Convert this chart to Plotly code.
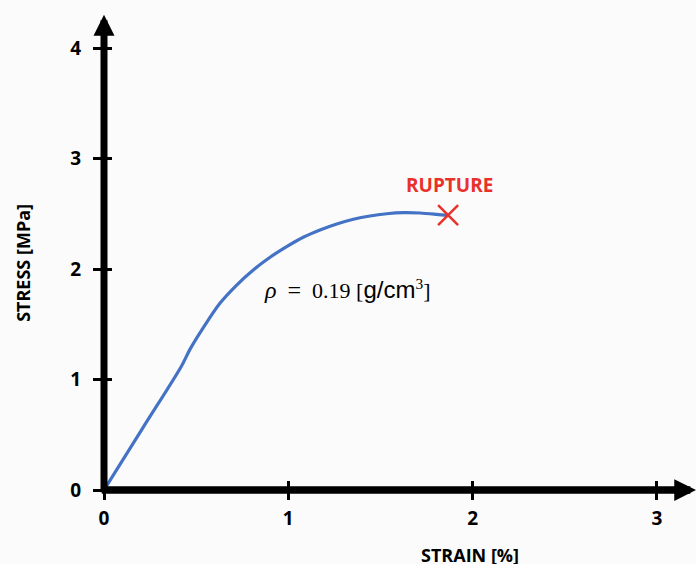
import plotly.graph_objects as go

# ---- data ----
strain = [0, 0.21, 0.42, 0.467, 0.539, 0.629, 0.720, 0.810, 0.901, 0.991, 1.081, 1.172,
          1.263, 1.353, 1.443, 1.534, 1.624, 1.715, 1.805, 1.867]
stress = [0, 0.56, 1.12, 1.275, 1.470, 1.690, 1.855, 1.991, 2.106, 2.202, 2.287, 2.353,
          2.407, 2.450, 2.480, 2.500, 2.510, 2.507, 2.495, 2.485]
rupture_strain = [1.867]
rupture_stress = [2.487]
x_ticks = [0, 1, 2, 3]
y_ticks = [0, 1, 2, 3, 4]

X_MAX = 3.212
Y_MAX = 4.344
Y_ARROW = 4.30

BLUE = "#4472c4"
RED = "#e8312a"
FONT = "Open Sans"

fig = go.Figure()
fig.add_trace(go.Scatter(x=strain, y=stress, mode="lines",
                         line=dict(color=BLUE, width=3.2, shape="spline", smoothing=0.9),
                         showlegend=False, hoverinfo="skip"))
fig.add_trace(go.Scatter(x=rupture_strain, y=rupture_stress, mode="markers",
                         marker=dict(symbol="x-thin", size=20, line=dict(color=RED, width=2.5)),
                         showlegend=False, cliponaxis=False, hoverinfo="skip"))
# invisible traces to carry the overlay axes (inner tick halves)
fig.add_trace(go.Scatter(x=[0], y=[0], xaxis="x2", yaxis="y", mode="markers",
                         marker=dict(opacity=0), showlegend=False, hoverinfo="skip"))
fig.add_trace(go.Scatter(x=[0], y=[0], xaxis="x", yaxis="y2", mode="markers",
                         marker=dict(opacity=0), showlegend=False, hoverinfo="skip"))

tickfont = dict(family=FONT, size=19, color="black", weight=700)

fig.update_layout(
    width=696, height=564,
    margin=dict(l=104, r=0, t=10, b=74),
    paper_bgcolor="#fbfbfb", plot_bgcolor="#fbfbfb",
    xaxis=dict(range=[0, X_MAX], tickvals=x_ticks, ticktext=[str(v) for v in x_ticks],
               ticks="outside", ticklen=9, tickwidth=3, tickcolor="black",
               showgrid=False, zeroline=False, showline=False, tickfont=tickfont,
               ticklabelstandoff=2),
    xaxis2=dict(range=[0, X_MAX], overlaying="x", anchor="y", side="bottom",
                tickvals=x_ticks, ticks="inside", ticklen=9, tickwidth=3, tickcolor="black",
                showticklabels=False, showgrid=False, zeroline=False, showline=False),
    yaxis=dict(range=[0, Y_MAX], tickvals=y_ticks, ticktext=[str(v) for v in y_ticks],
               ticks="outside", ticklen=10, tickwidth=3, tickcolor="black",
               showgrid=False, zeroline=False, showline=False, tickfont=tickfont,
               ticklabelstandoff=8),
    yaxis2=dict(range=[0, Y_MAX], overlaying="y", anchor="x", side="left",
                tickvals=y_ticks, ticks="inside", ticklen=8, tickwidth=3, tickcolor="black",
                showticklabels=False, showgrid=False, zeroline=False, showline=False),
)

# axis lines with arrowheads
fig.add_annotation(x=X_MAX, y=0, ax=-0.02, ay=0, xref="x", yref="y", axref="x", ayref="y",
                   text="", showarrow=True, arrowhead=2, arrowsize=0.58, arrowwidth=7.5,
                   arrowcolor="black", standoff=0, startstandoff=0, font=dict(size=1))
fig.add_annotation(x=0, y=Y_ARROW, ax=0, ay=-0.035, xref="x", yref="y", axref="x", ayref="y",
                   text="", showarrow=True, arrowhead=2, arrowsize=0.6, arrowwidth=7,
                   arrowcolor="black", standoff=0, startstandoff=0, font=dict(size=1))

# axis titles
fig.add_annotation(x=0.618, y=-0.135, xref="paper", yref="paper", text="STRAIN [%]",
                   showarrow=False, xanchor="center", yanchor="middle",
                   font=dict(family=FONT, size=18, color="black", weight=700))
fig.add_annotation(x=-0.137, y=0.473, xref="paper", yref="paper", text="STRESS [MPa]",
                   showarrow=False, textangle=-90, xanchor="center", yanchor="middle",
                   font=dict(family=FONT, size=18, color="black", weight=700))

# labels
fig.add_annotation(x=1.872, y=2.76, xref="x", yref="y", text="RUPTURE", showarrow=False,
                   xanchor="center", yanchor="middle",
                   font=dict(family=FONT, size=19, color=RED, weight=700))
fig.add_annotation(x=1.321, y=1.819, xref="x", yref="y",
                   text=("<span style='font-size:24px'><i>ρ</i></span>  "
                         "<span style='font-size:24px'>=</span>  0.19 "
                         "[<span style='font-family:Liberation Sans;font-size:24px'>g/cm</span>"
                         "<sup>3</sup>]"),
                   showarrow=False, xanchor="center", yanchor="middle",
                   font=dict(family="Liberation Serif", size=22, color="black"))

fig.write_html("out.html")
